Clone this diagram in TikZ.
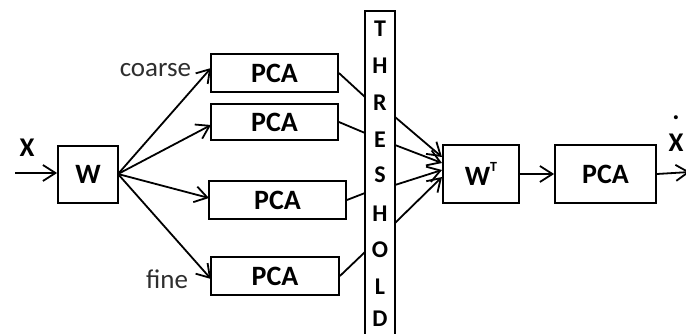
\documentclass[tikz,border=0pt]{standalone}
\usepackage{fontspec}
\setmainfont{Carlito}
\usetikzlibrary{arrows.meta}
\begin{document}
\begin{tikzpicture}[x=1pt,y=-1pt,line width=1.8pt,
  box/.style={draw,line width=1.8pt,inner sep=0pt,font=\fontsize{28}{30}\selectfont\bfseries},
  arr/.style={-{Straight Barb[length=12.5pt,width=16pt,line width=1.8pt]}},
  lbl/.style={inner sep=0pt,font=\fontsize{27}{29}\selectfont,text=black!82},
  sym/.style={inner sep=0pt,font=\fontsize{27}{29}\selectfont\bfseries},
  thr/.style={inner sep=0pt,font=\fontsize{24}{26}\selectfont\bfseries}]
\useasboundingbox (0,0) rectangle (686,334);
% boxes
\node[box,minimum width=60pt,minimum height=57pt] (w) at (88,174.5) {W};
\node[box,minimum width=127pt,minimum height=38pt] (p1) at (274.5,73) {PCA};
\node[box,minimum width=127pt,minimum height=36pt] (p2) at (274.5,122) {PCA};
\node[box,minimum width=137pt,minimum height=38pt] (p3) at (277.5,200) {PCA};
\node[box,minimum width=128pt,minimum height=38pt] (p4) at (275,276) {PCA};
\node[draw,line width=1.8pt,minimum width=30pt,minimum height=332pt,inner sep=0pt] (bar) at (380,177) {};
\node[box,minimum width=76pt,minimum height=58pt] (wt) at (481,174) {W\raisebox{0.5em}{\fontsize{14}{16}\selectfont T}};
\node[box,minimum width=101pt,minimum height=58pt] (p5) at (605.5,174) {PCA};
% threshold letters
\node[thr] (t1) at (380,29) {T};
\node[thr] (t2) at (380,66) {H};
\node[thr] (t3) at (380,103) {R};
\node[thr] (t4) at (380,140) {E};
\node[thr] (t5) at (380,175) {S};
\node[thr] (t6) at (380,214) {H};
\node[thr] (t7) at (380,250) {O};
\node[thr] (t8) at (380,287) {L};
\node[thr] (t9) at (380,319) {D};
% labels
\node[sym] (xin) at (27,148) {X};
\node[sym,align=center,anchor=south] (xout) at (676,152) {.\\[3pt]X};
\node[lbl,anchor=east] (coarse) at (192,70) {coarse};
\node[lbl,anchor=east] (fine) at (189,279) {fine};
% coordinates
\coordinate (in) at (15,173);
\coordinate (out) at (690,172);
\coordinate (wo) at (118,174);
\coordinate (e1) at (211,68);
\coordinate (e2) at (211,125);
\coordinate (e3) at (209,198);
\coordinate (e4) at (211,279);
\coordinate (b1) at (365,97);
\coordinate (b2) at (365,133);
\coordinate (b3) at (365,193);
\coordinate (b4) at (365,252);
\coordinate (r1) at (395,117);
\coordinate (r2) at (395,145);
\coordinate (r3) at (395,185);
\coordinate (r4) at (395,223);
\coordinate (q1) at (442,157);
\coordinate (q2) at (442,163);
\coordinate (q3) at (442,170);
\coordinate (q4) at (442,177);
% connectors
\draw[arr] (in) -- (w.west |- in);
\draw[arr] (wo) -- (e1);
\draw[arr] (wo) -- (e2);
\draw[arr] (wo) -- (e3);
\draw[arr] (wo) -- (e4);
\draw (p1.east) -- (b1);
\draw (p2.east) -- (b2);
\draw (p3.east) -- (b3);
\draw (p4.east) -- (b4);
\draw[arr] (r1) -- (q1);
\draw[arr] (r2) -- (q2);
\draw[arr] (r3) -- (q3);
\draw[arr] (r4) -- (q4);
\draw[arr] (wt.east) -- (p5.west);
\draw[arr] (p5.east) -- (out);
\end{tikzpicture}
\end{document}
